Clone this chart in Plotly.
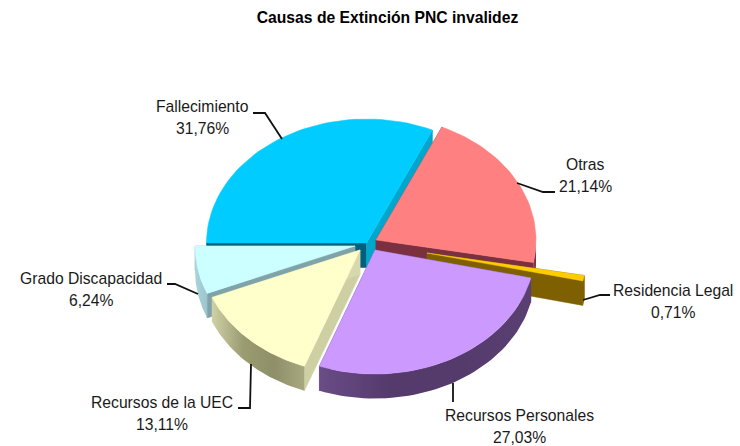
import math
import plotly.graph_objects as go

# Data
categories = ["Fallecimiento", "Otras", "Residencia Legal", "Recursos Personales", "Recursos de la UEC", "Grado Discapacidad"]
shares = [31.76, 21.14, 0.71, 27.03, 13.11, 6.24]
title_text = "Causas de Extinción PNC invalidez"

# Style / geometry of the tilted, exploded pie
top_colors = ["#00CCFF", "#FF8080", "#FFCC00", "#CC99FF", "#FFFFCC", "#CCFFFF"]
side_scales = [
    ["#0090B4", "#00A0C8"],
    ["#8A4048", "#7A3040"],
    ["#7F6000", "#7F6000"],
    ["#6A4C86", "#553A6C", "#553A6C", "#5A3F72"],
    ["#D0D0A6", "#9C9C72", "#8E8E68", "#A8A880"],
    ["#A8D4D8", "#9CC6CC"],
]
start_cut = ["#005F7A", "#7A3040", "#7F6000", "#5C3F76", "#CFCFA4", "#7FA3A8"]
end_cut = ["#00A6CC", "#7A3040", "#7F6000", "#5C3F76", "#D8D8AE", "#7FA3A8"]
centers = [(366.5, 243), (376, 240), (427, 253), (375, 250), (360, 250), (355, 246)]
RX, RY, DEPTH = 160, 124, 24.5
START_ANGLE = 270.0
draw_order = [0, 1, 2, 5, 4, 3]
label_pos = [(202, 106), (585, 164), (673, 290), (519, 415), (162, 402), (91, 278)]
LINE_GAP = 22.5
leaders = [
    [(253, 113), (265, 113), (282, 139)],
    [(555, 192), (543, 192), (517, 183)],
    [(610, 295), (600, 295), (583, 300)],
    [(453, 383), (453, 402)],
    [(251, 364), (250, 408), (238, 408)],
    [(167, 284), (175, 284), (198, 294)],
]


def pt(c, a, dy=0):
    t = math.radians(a)
    return c[0] + RX * math.sin(t), c[1] - RY * math.cos(t) + dy


def arc(c, a0, a1, dy=0, n=48):
    pts = [pt(c, a0 + (a1 - a0) * i / n, dy) for i in range(n + 1)]
    return [p[0] for p in pts], [p[1] for p in pts]


total = sum(shares)
spans = []
acc = START_ANGLE
for v in shares:
    spans.append((acc, acc + v / total * 360))
    acc += v / total * 360

fig = go.Figure()


def poly(xs, ys, color, name, grad=None):
    kw = dict(fill="toself", mode="lines", hoverinfo="text", text=name, showlegend=False, name=name)
    if grad:
        m = len(grad) - 1
        kw["fillgradient"] = dict(type="horizontal", colorscale=[[i / m, g] for i, g in enumerate(grad)])
        kw["line"] = dict(color=grad[m // 2], width=0)
    else:
        kw["fillcolor"] = color
        kw["line"] = dict(color=color, width=0.5)
    fig.add_trace(go.Scatter(x=xs, y=ys, **kw))


for i in draw_order:
    c = centers[i]
    a0, a1 = spans[i]
    name = f"{categories[i]}: {shares[i]:.2f}%".replace(".", ",")
    # cut faces
    for a, col in ((a0, start_cut[i]), (a1, end_cut[i])):
        p = pt(c, a)
        poly([c[0], p[0], p[0], c[0], c[0]], [c[1], p[1], p[1] + DEPTH, c[1] + DEPTH, c[1]], col, name)
    # outer wall: only the part of the rim that faces the viewer
    s0, s1 = a0, a1
    if s0 >= 360:
        s0, s1 = s0 - 360, s1 - 360
    lo, hi = max(s0, 90), min(s1, 270)
    if hi > lo:
        xt, yt = arc(c, lo, hi)
        xb, yb = arc(c, lo, hi, DEPTH)
        # arcs run right-to-left in the front half; the gradient runs left-to-right
        poly(xt + xb[::-1] + [xt[0]], yt + yb[::-1] + [yt[0]], None, name, grad=side_scales[i])
    # top face
    xt, yt = arc(c, a0, a1)
    poly([c[0]] + xt + [c[0]], [c[1]] + yt + [c[1]], top_colors[i], name)

label_font = dict(family="Liberation Sans", size=15.7, color="#1a1a1a")
annotations = []
for (x, y), n, v in zip(label_pos, categories, shares):
    annotations.append(dict(x=x, y=y, xref="x", yref="y", showarrow=False, text=n, font=label_font))
    annotations.append(dict(x=x, y=y + LINE_GAP, xref="x", yref="y", showarrow=False,
                            text=f"{v:.2f}%".replace(".", ","), font=label_font))

shapes = []
for pts in leaders:
    path = "M " + " L ".join(f"{x},{y}" for x, y in pts)
    shapes.append(dict(type="path", path=path, xref="x", yref="y", line=dict(color="#111111", width=1.8)))

fig.update_layout(
    width=740, height=446, margin=dict(l=0, r=0, t=0, b=0),
    paper_bgcolor="white", plot_bgcolor="white", showlegend=False,
    title=dict(text=title_text, x=387.5 / 740, xanchor="center", y=1 - 18 / 446, yanchor="middle",
               font=dict(family="Liberation Sans", size=15.7, color="#000000", weight="bold")),
    xaxis=dict(range=[0, 740], visible=False, fixedrange=True),
    yaxis=dict(range=[446, 0], visible=False, fixedrange=True),
    annotations=annotations, shapes=shapes,
)
fig.write_html("out.html", config={"displayModeBar": False}, post_script="document.body.style.margin='0';")
